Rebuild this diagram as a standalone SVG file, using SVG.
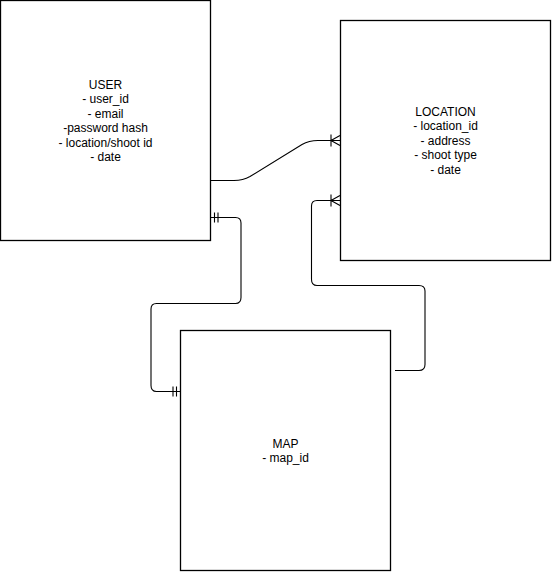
<svg xmlns="http://www.w3.org/2000/svg" width="552" height="572" viewBox="0 0 552 572">
<style>
.box{fill:#fff;stroke:#000;stroke-width:1.3}
.lbl{font-family:"Liberation Sans",Arial,Helvetica,sans-serif;font-size:12px;fill:#000;text-anchor:middle}
.edge{fill:none;stroke:#000;stroke-width:1.1}
</style>
<rect width="552" height="572" fill="#fff"/>
<g id="user">
<rect class="box" x="0.5" y="0.5" width="210" height="240"/>
<text class="lbl" x="105.5"><tspan x="105.5" y="89">USER</tspan><tspan x="105.5" y="103.4">- user_id</tspan><tspan x="105.5" y="117.8">- email</tspan><tspan x="105.5" y="132.2">-password hash</tspan><tspan x="105.5" y="146.6">- location/shoot id</tspan><tspan x="105.5" y="161">- date</tspan></text>
</g>
<g id="location">
<rect class="box" x="340.5" y="20.5" width="210" height="240"/>
<text class="lbl"><tspan x="445.5" y="116">LOCATION</tspan><tspan x="445.5" y="130.4">- location_id</tspan><tspan x="445.5" y="144.8">- address</tspan><tspan x="445.5" y="159.2">- shoot type</tspan><tspan x="445.5" y="173.6">- date</tspan></text>
</g>
<g id="map">
<rect class="box" x="180.5" y="330.5" width="210" height="240"/>
<text class="lbl"><tspan x="285.5" y="448">MAP</tspan><tspan x="285.5" y="462.4">- map_id</tspan></text>
</g>
<g id="connectors">
<path class="edge" d="M211 180.5 L234 180.5 Q243 180.5 250 176.5 L302 144.5 Q309 140.5 318 140.5 L340 140.5"/>
<path class="edge" d="M331 134.5 V146.5 M331 140.5 L340 135.5 M331 140.5 L340 145.5"/>
<path class="edge" d="M340 200.5 L317 200.5 Q311.5 200.5 311.5 206 L311.5 279.5 Q311.5 285.5 317 285.5 L419 285.5 Q425 285.5 425 291 L425 364.5 Q425 370.5 419 370.5 L395 370.5"/>
<path class="edge" d="M331 194.5 V206.5 M331 200.5 L340 195.5 M331 200.5 L340 205.5"/>
<path class="edge" d="M211 217.5 L235.5 217.5 Q241 217.5 241 223 L241 297.5 Q241 303.5 235.5 303.5 L156.5 303.5 Q151 303.5 151 309 L151 385.5 Q151 391.5 156.5 391.5 L180 391.5"/>
<path class="edge" d="M214.5 212.5 V222.5 M218 212.5 V222.5"/>
<path class="edge" d="M173 386.5 V396.5 M176.5 386.5 V396.5"/>
</g>
</svg>
